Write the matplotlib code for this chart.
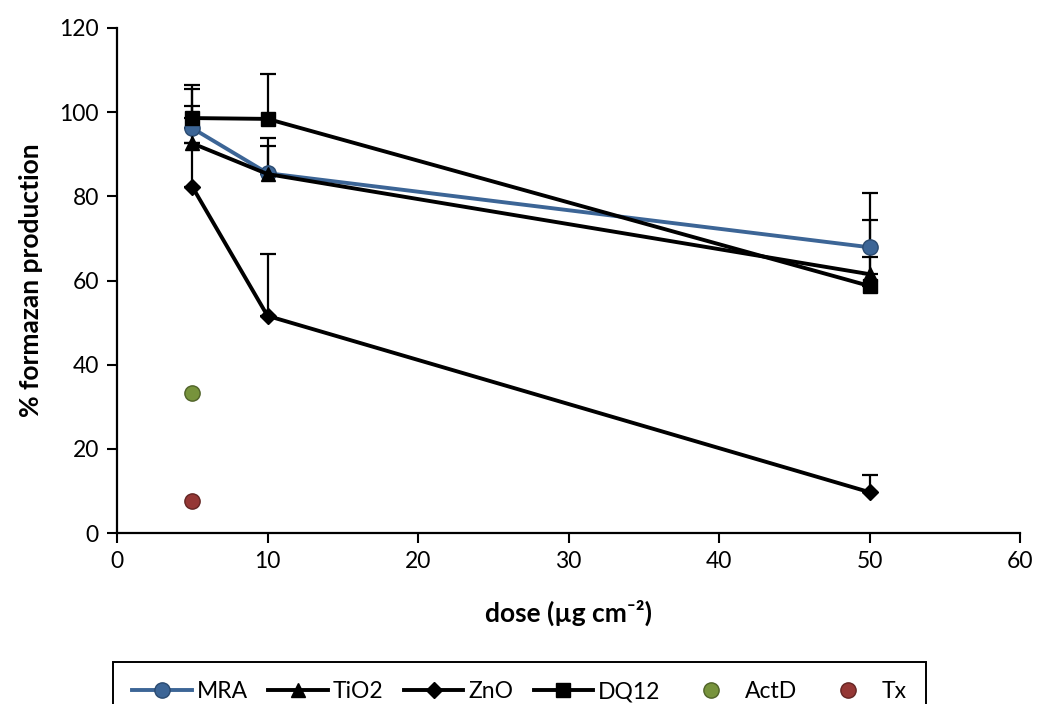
import matplotlib
matplotlib.use("Agg")
import matplotlib.pyplot as plt
from matplotlib.lines import Line2D

plt.rcParams['font.family'] = ['Lato', 'DejaVu Sans']

doses = [5, 10, 50]
mra = [96.2, 85.5, 67.9]
mra_err = [9.3, 8.4, 12.8]
tio2 = [92.6, 85.3, 61.5]
tio2_err = [0.0, 6.6, 12.8]
zno = [82.3, 51.6, 9.7]
zno_err = [19.2, 14.8, 4.1]
dq12 = [98.6, 98.4, 58.7]
dq12_err = [7.8, 10.7, 6.9]
actd_x, actd_y = [5], [33.2]
tx_x, tx_y = [5], [7.5]

xticks = [0, 10, 20, 30, 40, 50, 60]
yticks = [0, 20, 40, 60, 80, 100, 120]

fig = plt.figure(figsize=(10.38, 7.04), dpi=100)
ax = fig.add_axes([117/1038, 1-533/704, (1020-117)/1038, (533-28)/704])

blue = '#3C6596'
lw = 2.8
ek = dict(fmt='none', ecolor='black', elinewidth=1.6, capsize=6, capthick=1.6, zorder=2)
for y, e in [(mra, mra_err), (tio2, tio2_err), (zno, zno_err), (dq12, dq12_err)]:
    ax.errorbar(doses, y, yerr=[[0]*len(e), e], **ek)

ax.plot(doses, mra, color=blue, lw=lw, marker='o', ms=11, mfc=blue, mec='#2A4A70', zorder=2.9)
ax.plot(doses, zno, color='black', lw=lw, marker='D', ms=8, zorder=3)
ax.plot(doses, tio2, color='black', lw=lw, marker='^', ms=10, zorder=3)
ax.plot(doses, dq12, color='black', lw=lw, marker='s', ms=10, zorder=4)
ax.plot(actd_x, actd_y, ls='none', marker='o', ms=11, mfc='#77933C', mec='#4F6228', zorder=3)
ax.plot(tx_x, tx_y, ls='none', marker='o', ms=11, mfc='#953735', mec='#632523', zorder=3)

ax.set_xlim(0, 60)
ax.set_ylim(0, 120)
ax.set_xticks(xticks)
ax.set_yticks(yticks)
ax.tick_params(labelsize=16.5, direction='out', length=7, width=1.5, pad=6)
for s in ['top', 'right']:
    ax.spines[s].set_visible(False)
for s in ['left', 'bottom']:
    ax.spines[s].set_linewidth(1.6)
ax.set_xlabel('dose (µg cm⁻²)', fontsize=19, fontweight='bold', labelpad=20)
ax.set_ylabel('% formazan production', fontsize=19, fontweight='bold', labelpad=12)

handles = [
    Line2D([], [], color=blue, lw=lw, marker='o', ms=11, mfc=blue, mec='#2A4A70'),
    Line2D([], [], color='black', lw=lw, marker='^', ms=10),
    Line2D([], [], color='black', lw=lw, marker='D', ms=8),
    Line2D([], [], color='black', lw=lw, marker='s', ms=10),
    Line2D([], [], ls='none', marker='o', ms=11, mfc='#77933C', mec='#4F6228'),
    Line2D([], [], ls='none', marker='o', ms=11, mfc='#953735', mec='#632523'),
]
labels = ['MRA', 'TiO2', 'ZnO', 'DQ12', 'ActD', 'Tx']
leg = fig.legend(handles, labels, loc='upper left', bbox_to_anchor=(113/1038, 1-662/704),
                 ncol=6, fontsize=16.5, frameon=True, fancybox=False, edgecolor='black',
                 framealpha=1, handlelength=2.6, columnspacing=0.9, handletextpad=0.2,
                 borderpad=0.85, borderaxespad=0)
leg.get_frame().set_linewidth(1.4)

fig.savefig('out.png', dpi=100)
